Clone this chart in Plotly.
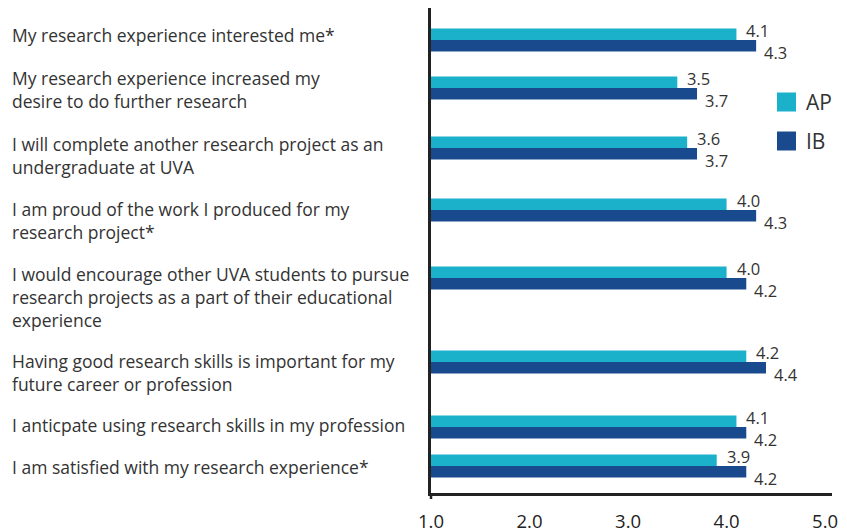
import plotly.graph_objects as go

# ---- data ----
statements = [
    "My research experience interested me*",
    "My research experience increased my<br>desire to do further research",
    "I will complete another research project as an<br>undergraduate at UVA",
    "I am proud of the work I produced for my<br>research project*",
    "I would encourage other UVA students to pursue<br>research projects as a part of their educational<br>experience",
    "Having good research skills is important for my<br>future career or profession",
    "I anticpate using research skills in my profession",
    "I am satisfied with my research experience*",
]
ap_values = [4.1, 3.5, 3.6, 4.0, 4.0, 4.2, 4.1, 3.9]
ib_values = [4.3, 3.7, 3.7, 4.3, 4.2, 4.4, 4.2, 4.2]
x_ticks = [1.0, 2.0, 3.0, 4.0, 5.0]
series_names = ["AP", "IB"]

# ---- layout positions (row units, top -> bottom) ----
row_y = [40, 88, 148, 210, 278, 362, 427, 466]
label_y = [35, 89, 155, 220, 297, 372, 425, 467]
BAR_W = 11.5

AP_COLOR = "#1BB1CB"
IB_COLOR = "#1A4A8E"
TEXT = "#333333"
FONT = "Open Sans"

# the page places the figure 8px from the top-left corner of the window
PAGE_OFF = 8
W, H = 847 - PAGE_OFF, 532 - PAGE_OFF
PLOT_LEFT, PLOT_RIGHT = 431, 832      # window px
PLOT_TOP, PLOT_BOTTOM = 8, 493        # window px
ML = PLOT_LEFT - PAGE_OFF
MR = W + PAGE_OFF - PLOT_RIGHT
MT = PLOT_TOP - PAGE_OFF
MB = H + PAGE_OFF - PLOT_BOTTOM
PW = W - ML - MR
PH = H - MT - MB
Y_RANGE = [PLOT_BOTTOM, PLOT_TOP]


def px_to_paper_x(px):
    return (px - PLOT_LEFT) / PW


def px_to_paper_y(py):
    return (PLOT_BOTTOM - py) / PH


fig = go.Figure()
fig.add_trace(go.Bar(
    x=ap_values, y=row_y, orientation="h", name=series_names[0],
    marker=dict(color=AP_COLOR, line=dict(width=0)),
    width=BAR_W, offset=-BAR_W, showlegend=False, hoverinfo="x+name",
))
fig.add_trace(go.Bar(
    x=ib_values, y=row_y, orientation="h", name=series_names[1],
    marker=dict(color=IB_COLOR, line=dict(width=0)),
    width=BAR_W, offset=0, showlegend=False, hoverinfo="x+name",
))

annotations = []
# value labels
for v, y in zip(ap_values, row_y):
    annotations.append(dict(x=v, y=y, xref="x", yref="y", text=f"{v:.1f}",
                            showarrow=False, xanchor="left", yanchor="middle",
                            xshift=8, yshift=10,
                            font=dict(family=FONT, size=16.5, color=TEXT)))
for v, y in zip(ib_values, row_y):
    annotations.append(dict(x=v, y=y, xref="x", yref="y", text=f"{v:.1f}",
                            showarrow=False, xanchor="left", yanchor="middle",
                            xshift=6, yshift=-12,
                            font=dict(family=FONT, size=16.5, color=TEXT)))
# category labels
for s, y in zip(statements, label_y):
    annotations.append(dict(x=px_to_paper_x(10), y=y, xref="paper", yref="y",
                            text=s, showarrow=False, xanchor="left",
                            yanchor="middle", align="left",
                            font=dict(family=FONT, size=17.5, color=TEXT)))

# legend (manual, large swatches)
shapes = []
legend_items = [(series_names[0], AP_COLOR, 102), (series_names[1], IB_COLOR, 141)]
for name, col, cy in legend_items:
    shapes.append(dict(type="rect", xref="paper", yref="paper",
                       x0=px_to_paper_x(777), x1=px_to_paper_x(796),
                       y0=px_to_paper_y(cy + 9.5), y1=px_to_paper_y(cy - 9.5),
                       fillcolor=col, line=dict(width=0)))
    annotations.append(dict(x=px_to_paper_x(804), y=px_to_paper_y(cy),
                            xref="paper", yref="paper", text=name,
                            showarrow=False, xanchor="left", yanchor="middle",
                            font=dict(family=FONT, size=21, color=TEXT)))

# small downward tick where the axes cross
shapes.append(dict(type="line", xref="paper", yref="paper",
                   x0=0, x1=0, y0=0, y1=px_to_paper_y(PLOT_BOTTOM + 6),
                   line=dict(color="#222222", width=2.5)))

fig.update_layout(
    width=W, height=H,
    margin=dict(l=ML, r=MR, t=MT, b=MB, pad=0),
    plot_bgcolor="white", paper_bgcolor="white",
    barmode="overlay",
    showlegend=False,
    annotations=annotations,
    shapes=shapes,
    xaxis=dict(range=[1, 5.07], tickvals=x_ticks,
               ticktext=[f"{t:.1f}" for t in x_ticks],
               showgrid=False, zeroline=False,
               showline=True, linecolor="#222222", linewidth=2.5,
               ticks="", ticklabelstandoff=10,
               tickfont=dict(family=FONT, size=18.5, color="#222222")),
    yaxis=dict(range=Y_RANGE, showgrid=False, zeroline=False,
               showticklabels=False, showline=True,
               linecolor="#222222", linewidth=2.5, ticks=""),
)

fig.write_html("out.html")
